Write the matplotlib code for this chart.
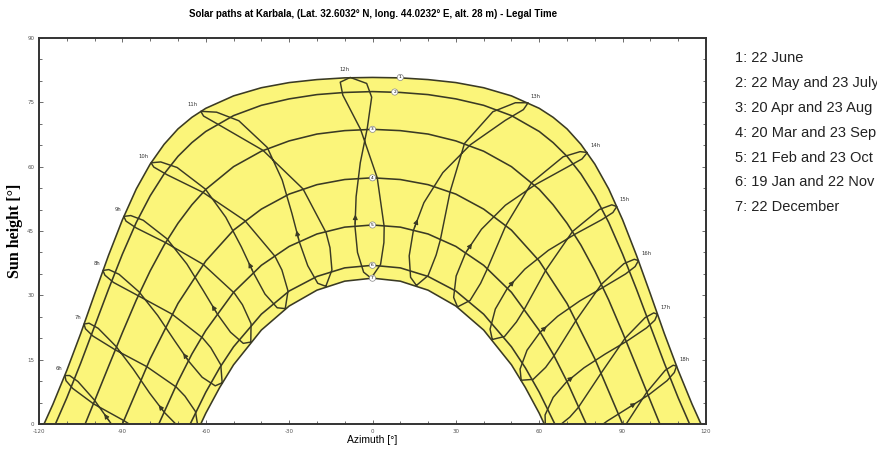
import matplotlib.pyplot as plt
from matplotlib.ticker import MultipleLocator

plt.rcParams["axes.unicode_minus"] = False

# daily sun paths (azimuth in deg, sun height in deg)
path1_az = [-118.2, -115, -110, -105, -100, -95, -90, -85, -80, -75, -70, -65, -60, -50, -40, -30, -20, -10,
            0, 10, 20, 30, 40, 50, 60, 65, 70, 75, 80, 85, 90, 95, 100, 105, 110, 115, 118.2]
path1_h = [0, 4.6, 12.5, 21.1, 30.3, 39.3, 47.6, 54.8, 60.6, 65.2, 68.8, 71.5, 73.6, 76.5, 78.4, 79.6, 80.3, 80.7,
           80.8, 80.7, 80.3, 79.6, 78.4, 76.5, 73.6, 71.5, 68.8, 65.2, 60.6, 54.8, 47.6, 39.3, 30.3, 21.1, 12.5, 4.6, 0]

path2_az = [-114.1, -110, -105, -100, -95, -90, -85, -80, -75, -70, -65, -60, -50, -40, -30, -20, -10,
            0, 10, 20, 30, 40, 50, 60, 65, 70, 75, 80, 85, 90, 95, 100, 105, 110, 114.1]
path2_h = [0, 6.1, 14.2, 22.8, 31.4, 39.6, 47.0, 53.2, 58.3, 62.4, 65.6, 68.2, 71.9, 74.3, 75.8, 76.8, 77.3,
           77.5, 77.3, 76.8, 75.8, 74.3, 71.9, 68.2, 65.6, 62.4, 58.3, 53.2, 47.0, 39.6, 31.4, 22.8, 14.2, 6.1, 0]

path3_az = [-103.4, -100, -95, -90, -85, -80, -75, -70, -65, -60, -50, -40, -30, -20, -10,
            0, 10, 20, 30, 40, 50, 60, 65, 70, 75, 80, 85, 90, 95, 100, 103.4]
path3_h = [0, 5.4, 13.4, 21.3, 28.9, 35.7, 41.7, 46.8, 51.1, 54.7, 60.0, 63.6, 66.0, 67.6, 68.4,
           68.7, 68.4, 67.6, 66.0, 63.6, 60.0, 54.7, 51.1, 46.8, 41.7, 35.7, 28.9, 21.3, 13.4, 5.4, 0]

path4_az = [-90, -80, -70, -60, -50, -40, -30, -20, -10, 0, 10, 20, 30, 40, 50, 60, 70, 80, 90]
path4_h = [0, 15.2, 28.1, 38.0, 45.2, 50.1, 53.6, 55.8, 57.0, 57.4, 57.0, 55.8, 53.6, 50.1, 45.2, 38.0, 28.1, 15.2, 0]

path5_az = [-76.9, -70, -65, -60, -50, -40, -30, -20, -10, 0, 10, 20, 30, 40, 50, 60, 65, 70, 76.9]
path5_h = [0, 9.9, 16.3, 21.8, 30.7, 37.0, 41.4, 44.3, 45.9, 46.4, 45.9, 44.3, 41.4, 37.0, 30.7, 21.8, 16.3, 9.9, 0]

path6_az = [-65.6, -60, -55, -50, -40, -30, -20, -10, 0, 10, 20, 30, 40, 50, 55, 60, 65.6]
path6_h = [0, 7.4, 13.1, 18.0, 25.6, 31.0, 34.4, 36.4, 37.0, 36.4, 34.4, 31.0, 25.6, 18.0, 13.1, 7.4, 0]

path7_az = [-61.8, -60, -55, -50, -40, -30, -20, -10, 0, 10, 20, 30, 40, 50, 55, 60, 61.8]
path7_h = [0, 2.5, 8.5, 13.8, 21.9, 27.5, 31.2, 33.3, 34.0, 33.3, 31.2, 27.5, 21.9, 13.8, 8.5, 2.5, 0]

# where the little numbered circles sit
num_az = [10, 8, 0, 0, 0, 0, 0]
num_h = [80.8, 77.4, 68.7, 57.4, 46.4, 37.0, 34.0]

legend_lines = ["1: 22 June", "2: 22 May and 23 July", "3: 20 Apr and 23 Aug", "4: 20 Mar and 23 Sep",
                "5: 21 Feb and 23 Oct", "6: 19 Jan and 22 Nov", "7: 22 December"]

# hour lines (analemmas), one point per date through the year, legal time
h6_az = [-70.2, -72.5, -77.6, -82.9, -88.3, -94.2, -100.1, -106.0, -109.0, -110.7, -110.3, -107.9, -100.4, -89.5, -78.9, -75.7, -71.6]
h6_h = [-12.8, -13.9, -12.7, -9.7, -5.3, 0.2, 5.6, 9.9, 11.3, 11.3, 10.1, 8.3, 4.7, 0.8, -3.6, -5.5, -8.8]
h7_az = [-62.7, -65.1, -69.9, -74.9, -80.2, -86.1, -92.3, -98.7, -102.0, -103.8, -103.3, -100.6, -92.6, -81.3, -70.6, -67.5, -63.7]
h7_h = [-1.2, -2.1, -0.6, 2.7, 7.2, 12.8, 18.1, 22.3, 23.5, 23.3, 22.2, 20.5, 17.3, 13.4, 8.6, 6.5, 2.9]
h8_az = [-54.1, -56.6, -61.3, -66.1, -71.3, -77.3, -84.0, -91.2, -94.9, -97.0, -96.3, -93.2, -84.3, -72.1, -61.2, -58.2, -54.6]
h8_h = [9.6, 8.9, 10.9, 14.6, 19.5, 25.3, 30.8, 34.9, 36.0, 35.8, 34.7, 33.0, 29.9, 25.6, 20.1, 17.8, 13.8]
h9_az = [-43.8, -46.5, -51.1, -55.8, -60.8, -66.8, -74.0, -82.5, -87.0, -89.5, -88.7, -85.0, -74.5, -60.9, -49.7, -46.8, -43.7]
h9_h = [19.1, 18.8, 21.4, 25.6, 31.0, 37.3, 43.2, 47.5, 48.6, 48.4, 47.3, 45.7, 42.3, 37.2, 30.5, 27.8, 23.4]
h10_az = [-31.4, -34.3, -38.7, -42.8, -47.2, -52.8, -60.2, -70.3, -76.2, -79.7, -78.7, -73.9, -61.0, -45.9, -35.1, -32.6, -30.4]
h10_h = [26.9, 27.1, 30.3, 35.2, 41.3, 48.2, 54.8, 59.8, 61.1, 60.9, 59.9, 58.1, 54.0, 47.4, 39.1, 35.9, 31.0]
h11_az = [-16.8, -19.7, -23.3, -26.3, -29.0, -32.5, -37.9, -48.1, -56.1, -61.8, -60.8, -54.6, -39.4, -25.0, -16.7, -15.3, -14.6]
h11_h = [32.1, 32.8, 36.9, 42.4, 49.1, 56.9, 64.5, 70.7, 72.7, 72.9, 71.8, 69.5, 63.8, 54.8, 44.6, 41.1, 35.9]
h12_az = [-0.5, -3.2, -5.4, -6.3, -5.9, -4.4, -1.9, -0.3, -2.1, -8.0, -11.6, -10.7, -4.3, 1.7, 4.2, 4.1, 2.9]
h12_h = [34.0, 35.4, 40.0, 46.0, 53.0, 60.9, 68.9, 76.2, 79.4, 80.8, 79.7, 76.7, 68.7, 57.4, 46.0, 42.3, 37.2]
h13_az = [15.8, 13.7, 13.2, 14.7, 18.5, 25.3, 35.2, 47.8, 54.3, 56.0, 51.4, 43.3, 33.1, 27.9, 24.4, 22.9, 20.0]
h13_h = [32.3, 34.2, 39.2, 45.1, 51.6, 58.6, 65.1, 70.8, 73.3, 74.9, 74.9, 72.8, 65.4, 54.1, 42.9, 39.4, 34.6]
h14_az = [30.6, 29.2, 30.1, 33.5, 39.2, 47.8, 58.6, 70.1, 75.4, 77.3, 74.7, 68.6, 57.3, 48.0, 41.2, 38.9, 35.1]
h14_h = [27.3, 29.5, 34.5, 39.9, 45.4, 51.0, 55.8, 59.9, 61.8, 63.3, 63.5, 62.3, 56.3, 46.3, 36.0, 32.8, 28.8]
h15_az = [43.1, 42.3, 44.2, 48.5, 54.8, 63.3, 73.0, 82.4, 86.5, 87.9, 86.1, 81.6, 72.0, 62.4, 54.5, 51.8, 47.5]
h15_h = [19.7, 22.1, 26.8, 31.6, 36.1, 40.5, 44.3, 47.6, 49.3, 50.7, 51.1, 50.0, 44.9, 35.9, 26.6, 23.8, 20.4]
h16_az = [53.5, 53.1, 55.6, 60.2, 66.6, 74.6, 83.1, 91.1, 94.5, 95.7, 94.2, 90.5, 82.4, 73.3, 65.1, 62.3, 57.8]
h16_h = [10.2, 12.8, 17.2, 21.3, 25.1, 28.7, 31.9, 35.0, 36.7, 38.1, 38.4, 37.4, 32.6, 24.2, 15.7, 13.2, 10.4]
h17_az = [62.2, 62.1, 65.0, 69.8, 76.1, 83.7, 91.5, 98.6, 101.6, 102.5, 101.2, 98.1, 90.9, 82.3, 74.0, 71.0, 66.4]
h17_h = [-0.5, 2.1, 6.2, 9.8, 13.1, 16.3, 19.3, 22.4, 24.2, 25.6, 25.9, 24.8, 20.0, 11.9, 3.8, 1.6, -0.8]
h18_az = [69.7, 69.8, 73.2, 78.2, 84.5, 91.9, 99.4, 106.0, 108.6, 109.4, 108.2, 105.3, 98.7, 90.5, 82.0, 78.9, 74.0]
h18_h = [-12.0, -9.4, -5.6, -2.3, 0.7, 3.7, 6.8, 10.1, 12.0, 13.5, 13.7, 12.5, 7.4, -0.8, -8.5, -10.6, -12.7]

hour_names = ["6h", "7h", "8h", "9h", "10h", "11h", "12h", "13h", "14h", "15h", "16h", "17h", "18h"]
arrow_at = [5, 3, 3, 3, 3, 3, 3, 3, 3, 3, 3, 3, 5]  # segment carrying the direction arrow

paths = [(path1_az, path1_h), (path2_az, path2_h), (path3_az, path3_h), (path4_az, path4_h),
         (path5_az, path5_h), (path6_az, path6_h), (path7_az, path7_h)]
hours = [(h6_az, h6_h), (h7_az, h7_h), (h8_az, h8_h), (h9_az, h9_h), (h10_az, h10_h), (h11_az, h11_h),
         (h12_az, h12_h), (h13_az, h13_h), (h14_az, h14_h), (h15_az, h15_h), (h16_az, h16_h),
         (h17_az, h17_h), (h18_az, h18_h)]

line_col = "#3a3a24"
yellow = "#fbf57a"

fig = plt.figure(figsize=(8.77, 4.5), dpi=100)
ax = fig.add_axes([0.0445, 0.0578, 0.7605, 0.8578])

# yellow band between the 22 June and 22 December paths
ax.fill(path1_az + path7_az[::-1], path1_h + path7_h[::-1], color=yellow, zorder=1, lw=0)

for az, h in paths:
    ax.plot(az, h, color=line_col, lw=1.15, zorder=3)

for i, (az, h) in enumerate(hours):
    ax.plot(az + [az[0]], h + [h[0]], color=line_col, lw=1.05, zorder=3)
    k = arrow_at[i]
    mid = ((az[k] + az[k + 1]) / 2, (h[k] + h[k + 1]) / 2)
    ax.annotate("", xy=mid, xytext=(az[k], h[k]),
                arrowprops=dict(arrowstyle="-|>", color=line_col, lw=0.8, mutation_scale=7),
                zorder=4, annotation_clip=True)
    # label next to the 21 June point
    name = hour_names[i]
    if name == "12h":
        off, ha = (-4, 4), "center"
    elif i < 6:
        off, ha = (-2, 3), "right"
    else:
        off, ha = (2, 3), "left"
    ax.annotate(name, (az[9], h[9]), xytext=off, textcoords="offset points",
                fontsize=3.8, ha=ha, va="bottom", color="#333333", zorder=5)

for j in range(7):
    ax.text(num_az[j], num_h[j], str(j + 1), fontsize=3.2, ha="center", va="center", zorder=6,
            bbox=dict(boxstyle="circle,pad=0.25", fc="white", ec="#888888", lw=0.5))

ax.set_xlim(-120, 120)
ax.set_ylim(0, 90)
ax.xaxis.set_major_locator(MultipleLocator(30))
ax.xaxis.set_minor_locator(MultipleLocator(10))
ax.yaxis.set_major_locator(MultipleLocator(15))
ax.yaxis.set_minor_locator(MultipleLocator(5))
ax.tick_params(which="both", direction="in", top=True, right=True, colors="#555555",
               labelsize=4, width=0.6)
ax.tick_params(which="major", length=3)
ax.tick_params(which="minor", length=2)
for s in ax.spines.values():
    s.set_linewidth(1.4)
    s.set_color("#333333")

ax.set_xlabel("Azimuth [°]", fontsize=7.5, family="Liberation Sans", labelpad=1)
ax.set_ylabel("Sun height [°]", fontsize=11.5, family="Liberation Serif", weight="bold", labelpad=3)
fig.text(0.425, 0.968, "Solar paths at Karbala, (Lat. 32.6032° N, long. 44.0232° E, alt. 28 m) - Legal Time",
         fontsize=7, weight="bold", ha="center", va="center", family="Liberation Sans")

for j, t in enumerate(legend_lines):
    fig.text(0.838, 0.871 - j * 0.0553, t, fontsize=10.5, family="Liberation Sans",
             ha="left", va="center", color="#222222")

fig.savefig("out.png", dpi=100)
